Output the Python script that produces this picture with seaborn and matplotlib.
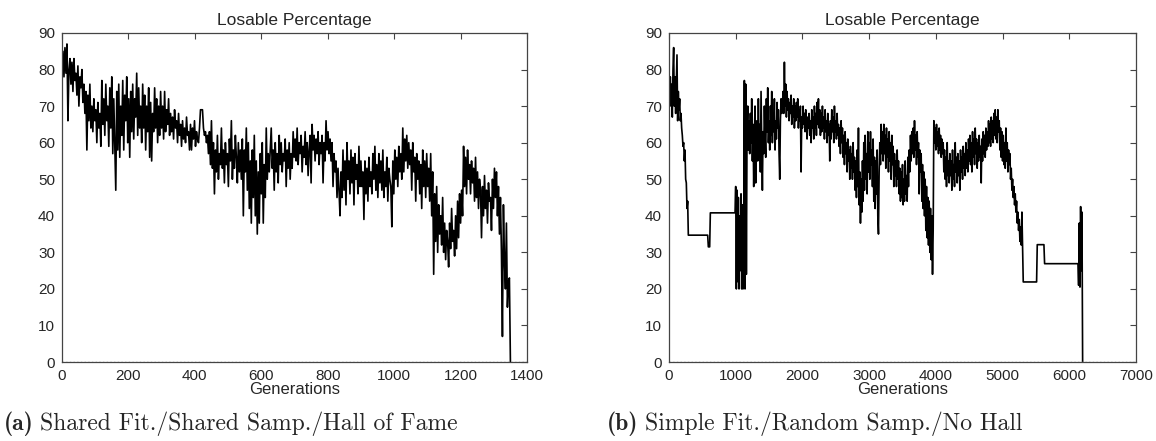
import numpy as np
import matplotlib
matplotlib.use("Agg")
import matplotlib.pyplot as plt
import seaborn as sns

# %%
# panel (a): losable percentage, one reading every 3 generations
gen_step_a = 3
losable_a = [
    80, 85, 78, 86, 79, 87, 66, 80, 83, 76,
    82, 74, 83, 77, 79, 73, 81, 70, 78, 75,
    80, 71, 76, 68, 74, 58, 73, 66, 76, 64,
    70, 63, 72, 66, 69, 60, 71, 64, 68, 59,
    77, 65, 72, 62, 76, 66, 70, 59, 75, 64,
    78, 57, 72, 60, 47, 74, 58, 76, 56, 70,
    62, 77, 58, 73, 66, 78, 60, 72, 56, 74,
    63, 76, 61, 72, 67, 79, 62, 75, 64, 70,
    60, 76, 64, 73, 58, 70, 63, 75, 56, 71,
    55, 68, 63, 75, 64, 72, 60, 70, 62, 74,
    64, 70, 61, 74, 63, 69, 65, 72, 62, 68,
    63, 67, 61, 69, 64, 66, 60, 68, 62, 65,
    59, 66, 61, 64, 60, 67, 62, 63, 58, 65,
    58, 64, 61, 66, 59, 63, 61, 60, 64, 69,
    69, 69, 64, 62, 63, 60, 62, 57, 63, 54,
    66, 53, 60, 46, 58, 52, 62, 50, 57, 54,
    64, 53, 58, 49, 60, 54, 57, 48, 61, 55,
    66, 50, 58, 53, 62, 56, 49, 60, 52, 58,
    50, 61, 40, 58, 52, 64, 47, 60, 42, 55,
    38, 58, 45, 62, 40, 55, 35, 52, 38, 57,
    46, 60, 38, 54, 45, 64, 50, 57, 52, 58,
    64, 53, 58, 47, 60, 52, 57, 49, 62, 54,
    60, 52, 57, 55, 61, 48, 58, 53, 60, 50,
    57, 53, 63, 56, 61, 55, 64, 54, 60, 57,
    62, 52, 59, 56, 63, 54, 60, 51, 58, 62,
    49, 65, 58, 62, 55, 61, 57, 63, 54, 60,
    57, 62, 49, 60, 55, 66, 58, 63, 57, 61,
    55, 60, 48, 57, 52, 55, 45, 53, 47, 40,
    52, 45, 58, 47, 55, 43, 60, 50, 55, 46,
    58, 49, 56, 43, 57, 50, 54, 46, 59, 48,
    55, 48, 52, 39, 55, 46, 53, 44, 56, 48,
    52, 46, 57, 50, 59, 47, 54, 45, 57, 49,
    55, 47, 58, 45, 52, 48, 56, 44, 53, 50,
    48, 37, 55, 46, 58, 50, 56, 48, 59, 52,
    57, 50, 64, 52, 61, 55, 62, 53, 60, 54,
    58, 47, 60, 52, 56, 44, 57, 50, 55, 46,
    54, 42, 58, 48, 55, 45, 57, 48, 53, 44,
    57, 40, 52, 24, 46, 33, 48, 30, 43, 35,
    40, 32, 45, 30, 38, 28, 36, 33, 26, 38,
    31, 42, 33, 36, 29, 40, 31, 44, 34, 46,
    38, 47, 40, 59, 48, 56, 46, 58, 50, 54,
    46, 55, 49, 53, 44, 56, 45, 52, 42, 50,
    47, 34, 48, 40, 51, 42, 47, 38, 49, 44,
    45, 36, 50, 42, 53, 45, 52, 40, 48, 35,
    45, 30, 7, 43, 28, 20, 38, 15, 22, 23,
    0,
]

# panel (b): one reading every 10 generations (flat stretches are repeated readings)
gen_step_b = 10
losable_b = (
    [75, 72, 78, 70, 76, 67, 80, 86, 70, 78,
     68, 76, 84, 66, 74, 69, 72, 66, 68, 64,
     62, 59, 60, 55, 58, 50, 49, 42, 44]
    + [34.7] * 30
    + [31.5] * 3
    + [40.8] * 38
    + [48, 20, 47, 22, 45, 20, 40, 25, 46, 20,
       43, 20, 37, 77, 20, 76, 24, 63, 70, 58,
       66, 57, 68, 60, 72, 55, 65, 48, 62, 70,
       49, 60, 66, 55, 72, 58, 65, 52, 74, 60,
       47, 63, 57, 70, 62, 56, 72, 63, 75, 60,
       66, 58, 70, 62, 74, 60, 68, 63, 72, 58,
       66, 61, 71, 64, 69, 57, 50, 66, 72, 68,
       70, 74, 68, 82, 70, 76, 67, 74, 69, 72,
       66, 71, 68, 73, 65, 70, 67, 72, 64, 70,
       66, 71, 67, 72, 64, 69, 66, 70, 52, 67,
       64, 70, 65, 68, 63, 69, 66, 61, 67, 64,
       68, 62, 66, 60, 69, 64, 67, 61, 70, 64,
       68, 62, 71, 65, 72, 64, 69, 62, 68, 63,
       70, 64, 67, 61, 69, 63, 66, 60, 68, 62,
       65, 55, 66, 61, 69, 63, 67, 60, 70, 63,
       66, 61, 68, 62, 65, 59, 64, 57, 66, 60,
       64, 56, 62, 54, 63, 57, 60, 52, 61, 55,
       58, 50, 59, 53, 57, 50, 60, 52, 56, 47,
       55, 45, 58, 48, 64, 43, 52, 38, 50, 41,
       55, 44, 60, 47, 62, 50, 57, 46, 63, 52,
       60, 50, 63, 54, 58, 48, 61, 44, 56, 42,
       55, 46, 58, 40, 35, 52, 60, 54, 65, 57,
       63, 55, 65, 57, 62, 53, 64, 56, 61, 52,
       63, 55, 60, 50, 62, 54, 59, 48, 57, 51,
       55, 48, 58, 50, 55, 46, 53, 44, 52, 45,
       54, 43, 50, 44, 55, 46, 51, 44, 56, 48,
       58, 52, 62, 55, 63, 57, 64, 56, 66, 58,
       62, 54, 63, 56, 60, 46, 58, 52, 57, 44,
       54, 42, 52, 40, 50, 36, 48, 34, 45, 32,
       44, 30, 42, 28, 40, 24, 36, 66, 60, 64,
       58, 65, 59, 63, 57, 64, 58, 62, 56, 61,
       57, 60, 52, 58, 50, 56, 48, 60, 51, 55,
       49, 57, 51, 55, 47, 58, 50, 54, 48, 60,
       52, 56, 49, 57, 51, 55, 47, 58, 52, 56,
       50, 59, 53, 57, 51, 60, 53, 58, 52, 61,
       55, 62, 54, 60, 52, 63, 56, 61, 54, 64,
       57, 61, 53, 60, 55, 62, 56, 59, 49, 61,
       55, 63, 57, 62, 56, 64, 58, 63, 59, 66,
       60, 65, 59, 67, 61, 66, 60, 68, 62, 69,
       61, 67, 60, 69, 63, 66, 58, 64, 56, 63,
       55, 62, 54, 60, 53, 64, 55, 60, 52, 58,
       54, 57, 50, 53, 47, 50, 45, 48, 43, 46,
       41, 44, 38, 41, 36, 39, 33, 37, 32, 41,
       32]
    + [21.9] * 21
    + [32.1] * 11
    + [26.9] * 51
    + [21, 38, 20.5, 42.5, 25, 41, 0]
)

caption_tags = ['(a)', '(b)']
caption_texts = ['Shared Fit./Shared Samp./Hall of Fame',
                 'Simple Fit./Random Samp./No Hall']
x_limits = [1400, 7000]
x_tick_steps = [200, 1000]

# %%
sns.set_style("white")
plt.rcParams['font.family'] = ['Liberation Sans', 'DejaVu Sans']

fig = plt.figure(figsize=(11.56, 4.41), dpi=100)
ax_a = fig.add_axes([0.0536, 0.1791, 0.4023, 0.7461])
ax_b = fig.add_axes([0.5787, 0.1791, 0.4040, 0.7461])

series = [
    (np.arange(len(losable_a)) * gen_step_a, losable_a),
    (np.arange(len(losable_b)) * gen_step_b, losable_b),
]

for ax, (gens, vals), xmax, xstep in zip([ax_a, ax_b], series, x_limits, x_tick_steps):
    sns.lineplot(x=gens, y=vals, ax=ax, color='black', linewidth=1.2,
                 estimator=None, sort=False)
    ax.set_xlim(0, xmax)
    ax.set_ylim(0, 90)
    ax.set_xticks(np.arange(0, xmax + 1, xstep))
    ax.set_yticks(np.arange(0, 91, 10))
    ax.tick_params(direction='in', top=True, right=True, length=4,
                   width=0.8, color='#444444', labelsize=11, pad=5)
    for sp in ax.spines.values():
        sp.set_color('#444444')
        sp.set_linewidth(0.9)
    ax.axhline(0, color='#888888', linestyle=':', linewidth=1)
    ax.set_title('Losable Percentage', fontsize=12.5, pad=6)
    ax.set_xlabel('Generations', fontsize=12, labelpad=-1)
    ax.set_ylabel('')

# sub-figure captions, TeX-like fonts
for x0, tag, txt in zip([0.003, 0.525], caption_tags, caption_texts):
    t = fig.text(x0, 0.040, tag, fontsize=17, family='cmb10', ha='left', va='center')
    ax_a.annotate(txt, xy=(1, 0.5), xycoords=t, xytext=(5, 0), textcoords='offset points',
                  fontsize=17, family='cmr10', ha='left', va='center', annotation_clip=False)

fig.savefig('out.png', dpi=100)
